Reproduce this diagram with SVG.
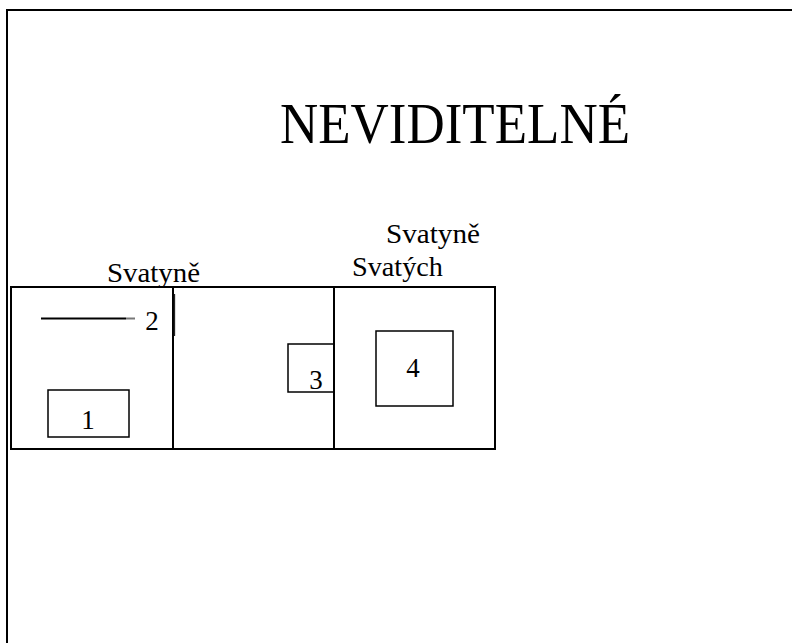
<svg xmlns="http://www.w3.org/2000/svg" width="792" height="643" viewBox="0 0 792 643">
<style>
.ln{stroke:#000;stroke-width:2;fill:none}
.bx{stroke:#000;stroke-width:1.5;fill:none}
.t{font-family:"Liberation Serif","Times New Roman",serif;fill:#000}
.lab{font-size:27px}
</style>
<rect width="792" height="643" fill="#fff"/>
<g id="frame">
<path class="ln" d="M7,643 V10 H800"/>
</g>
<text class="t" x="280" y="143" font-size="56" textLength="350" lengthAdjust="spacingAndGlyphs">NEVIDITELNÉ</text>
<g id="plan">
<rect class="ln" x="11" y="287" width="484" height="162"/>
<line class="ln" x1="173" y1="287" x2="173" y2="449"/>
<line class="ln" x1="334" y1="287" x2="334" y2="449"/>
</g>
<g id="node-svatyne">
<text class="t lab" x="107" y="282" textLength="93" lengthAdjust="spacingAndGlyphs">Svatyně</text>
</g>
<g id="node-svatyne-svatych">
<text class="t lab" x="386" y="243" textLength="94" lengthAdjust="spacingAndGlyphs">Svatyně</text>
<text class="t lab" x="352" y="276" textLength="91" lengthAdjust="spacingAndGlyphs">Svatých</text>
</g>
<g id="node-1">
<rect class="bx" x="48" y="390" width="81" height="47"/>
<text class="t lab" x="88" y="429" text-anchor="middle">1</text>
</g>
<g id="node-2">
<line x1="41" y1="318.5" x2="126" y2="318.5" stroke="#000" stroke-width="2"/>
<line x1="126" y1="318.5" x2="135" y2="318.5" stroke="#777" stroke-width="2"/>
<line x1="174.5" y1="294" x2="174.5" y2="336" stroke="#222" stroke-width="1.3"/>
<text class="t lab" x="152" y="330" text-anchor="middle">2</text>
</g>
<g id="node-3">
<rect class="bx" x="288" y="344" width="46" height="48"/>
<text class="t lab" x="316" y="389" text-anchor="middle">3</text>
</g>
<g id="node-4">
<rect class="bx" x="376" y="331" width="77" height="75"/>
<text class="t lab" x="413" y="377" text-anchor="middle">4</text>
</g>
<g id="connectors"/>
</svg>
